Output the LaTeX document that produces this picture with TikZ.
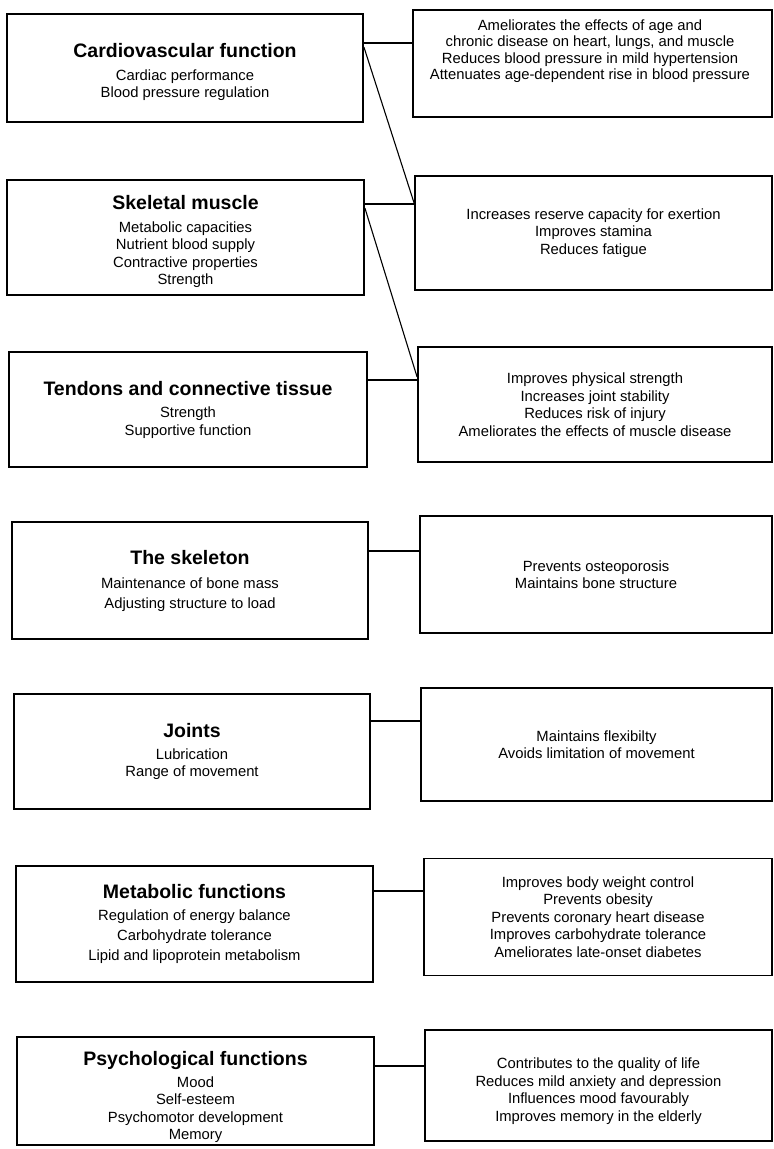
\documentclass[tikz,border=0pt]{standalone}
\usepackage{fontspec}
\setmainfont{Liberation Sans}
\newcommand{\ttl}[1]{{\fontsize{19.5}{22}\selectfont\bfseries #1}}
\begin{document}
\begin{tikzpicture}[x=1pt,y=-1pt,
  box/.style={draw, line width=1.8pt, rectangle, inner sep=0pt, align=center,
              font=\fontsize{14.8}{17.5}\selectfont},
  widebox/.style={box, font=\fontsize{14.8}{20}\selectfont},
  txt/.style={align=center, inner sep=0pt, font=\fontsize{14.8}{17.5}\selectfont},
  tighttxt/.style={txt, font=\fontsize{14.8}{16.5}\selectfont},
  conn/.style={line width=1.5pt},
  diag/.style={line width=1.1pt}]
\useasboundingbox (0,0) rectangle (774,1149);

% left column
\node[box, minimum width=356pt, minimum height=108pt] (card) at (185,68) {};
\node[txt] (cardt) at (185,72)
  {\ttl{Cardiovascular function}\\[5pt]Cardiac performance\\Blood pressure regulation};
\node[box, minimum width=357pt, minimum height=115pt] (skel) at (185.5,237.5) {};
\node[txt] (skelt) at (185.5,241.5)
  {\ttl{Skeletal muscle}\\[5pt]Metabolic capacities\\Nutrient blood supply\\Contractive properties\\Strength};
\node[box, minimum width=358pt, minimum height=115pt] (tend) at (188,409.5)
  {\ttl{Tendons and connective tissue}\\[5pt]Strength\\Supportive function};
\node[widebox, minimum width=356pt, minimum height=117pt] (bone) at (190,580.5)
  {\ttl{The skeleton}\\[4pt]Maintenance of bone mass\\Adjusting structure to load};
\node[box, minimum width=356pt, minimum height=115pt] (joint) at (192,751.5)
  {\ttl{Joints}\\[4pt]Lubrication\\Range of movement};
\node[widebox, minimum width=357pt, minimum height=116pt] (meta) at (194.5,924)
  {\ttl{Metabolic functions}\\[2pt]Regulation of energy balance\\Carbohydrate tolerance\\Lipid and lipoprotein metabolism};
\node[box, minimum width=357pt, minimum height=108pt] (psy) at (195.5,1091) {};
\node[txt] (psyt) at (195.5,1097)
  {\ttl{Psychological functions}\\[4pt]Mood\\Self-esteem\\Psychomotor development\\Memory};

% right column
\node[box, minimum width=359pt, minimum height=107pt] (r1) at (592.5,63.5) {};
\node[tighttxt] (r1t) at (590,51)
  {Ameliorates the effects of age and\\chronic disease on heart, lungs, and muscle\\Reduces blood pressure in mild hypertension\\Attenuates age-dependent rise in blood pressure};
\node[box, minimum width=357pt, minimum height=114pt] (r2) at (593.5,233)
  {Increases reserve capacity for exertion\\Improves stamina\\Reduces fatigue};
\node[box, minimum width=354pt, minimum height=115pt] (r3) at (595,404.5)
  {Improves physical strength\\Increases joint stability\\Reduces risk of injury\\Ameliorates the effects of muscle disease};
\node[box, minimum width=352pt, minimum height=117pt] (r4) at (596,574.5)
  {Prevents osteoporosis\\Maintains bone structure};
\node[box, minimum width=351pt, minimum height=113pt] (r5) at (596.5,744.5)
  {Maintains flexibilty\\Avoids limitation of movement};
\node[box, minimum width=348pt, minimum height=117pt] (r6) at (598,917)
  {Improves body weight control\\Prevents obesity\\Prevents coronary heart disease\\Improves carbohydrate tolerance\\Ameliorates late-onset diabetes};
\node[box, minimum width=347pt, minimum height=111pt] (r7) at (598.5,1085.5) {};
\node[txt] (r7t) at (598.5,1091)
  {Contributes to the quality of life\\Reduces mild anxiety and depression\\Influences mood favourably\\Improves memory in the elderly};

% connectors
\draw[conn] (card.east |- 0,43) -- (r1.west |- 0,43);
\draw[diag] (card.east |- 0,47) -- (r2.west |- 0,203);
\draw[conn] (skel.east |- 0,204) -- (r2.west |- 0,204);
\draw[diag] (skel.east |- 0,208) -- (r3.west |- 0,377);
\draw[conn] (tend.east |- 0,380) -- (r3.west |- 0,380);
\draw[conn] (bone.east |- 0,551) -- (r4.west |- 0,551);
\draw[conn] (joint.east |- 0,721) -- (r5.west |- 0,721);
\draw[conn] (meta.east |- 0,891) -- (r6.west |- 0,891);
\draw[conn] (psy.east |- 0,1066) -- (r7.west |- 0,1066);
\end{tikzpicture}
\end{document}
